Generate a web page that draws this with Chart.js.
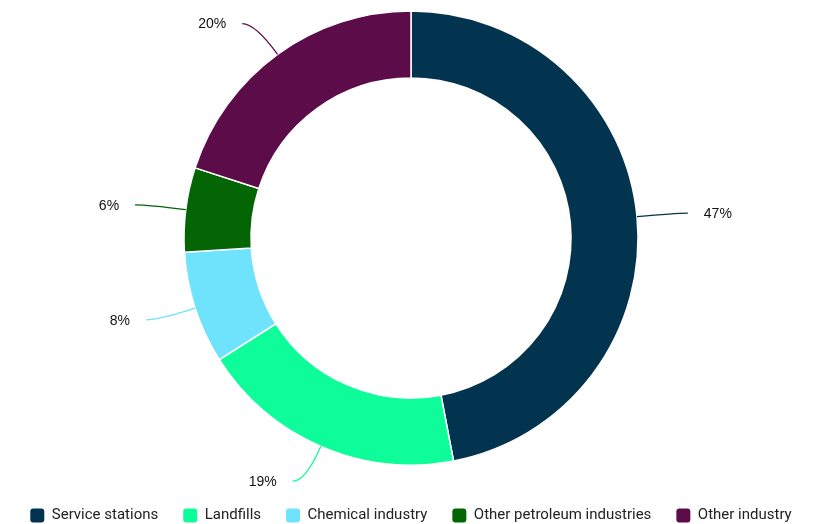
<!DOCTYPE html>
<html>
<head>
<meta charset="utf-8">
<script src="https://cdn.jsdelivr.net/npm/chart.js@4"></script>
<style>
  html, body { margin: 0; padding: 0; background: #fff; overflow: hidden; }
  #wrap { width: 822px; height: 533px; position: relative; }
</style>
</head>
<body>
<div id="wrap"><canvas id="chart"></canvas></div>
<script>
// data
const categories = ['Service stations', 'Landfills', 'Chemical industry', 'Other petroleum industries', 'Other industry'];
const shares = [47, 19, 8, 6, 20];
const sliceColors = ['#02334f', '#0efc9a', '#6fe3fc', '#036503', '#5c0c48'];

// draws the curved leader lines and the % labels outside the ring
const leaderLabels = {
  id: 'leaderLabels',
  afterDraw(chart) {
    const ctx = chart.ctx;
    const meta = chart.getDatasetMeta(0);
    meta.data.forEach((arc, i) => {
      const p = arc.getProps(['x', 'y', 'startAngle', 'endAngle', 'outerRadius'], true);
      const mid = (p.startAngle + p.endAngle) / 2;
      const dx = Math.cos(mid), dy = Math.sin(mid);
      const side = dx >= 0 ? 1 : -1;
      const sx = p.x + p.outerRadius * dx, sy = p.y + p.outerRadius * dy;
      const cx = p.x + (p.outerRadius + 38) * dx, cy = p.y + (p.outerRadius + 38) * dy;
      const ex = cx + side * 13, ey = cy;

      ctx.save();
      ctx.strokeStyle = sliceColors[i];
      ctx.lineWidth = 1.3;
      ctx.beginPath();
      ctx.moveTo(sx, sy);
      ctx.quadraticCurveTo(cx, cy, ex, ey);
      ctx.stroke();

      ctx.fillStyle = '#111';
      ctx.font = '14px "Liberation Sans", Arial, sans-serif';
      ctx.textBaseline = 'middle';
      ctx.textAlign = side > 0 ? 'left' : 'right';
      ctx.fillText(shares[i] + '%', ex + side * 16, ey + 1);
      ctx.restore();
    });
  }
};

const ctx = document.getElementById('chart').getContext('2d');
const chart = new Chart(ctx, {
  type: 'doughnut',
  data: {
    labels: categories,
    datasets: [{
      data: shares,
      backgroundColor: sliceColors,
      borderColor: '#ffffff',
      borderWidth: 1.5
    }]
  },
  options: {
    responsive: true,
    maintainAspectRatio: false,
    animation: false,
    radius: 227,
    cutout: '70.5%',
    plugins: {
      tooltip: { enabled: false },
      legend: {
        position: 'bottom',
        // empty title only adds a little space above the row
        title: { display: true, text: ' ', padding: 0, font: { size: 7 / 1.2 } },
        labels: {
          boxWidth: 14,
          boxHeight: 14,
          padding: 25,
          useBorderRadius: true,
          borderRadius: 3,
          color: '#222',
          font: { family: 'Roboto, sans-serif', size: 15 },
          generateLabels(chart) {
            const items = Chart.overrides.doughnut.plugins.legend.labels.generateLabels(chart);
            items.forEach(it => { it.lineWidth = 0; it.strokeStyle = it.fillStyle; });
            return items;
          }
        }
      }
    }
  },
  plugins: [leaderLabels]
});
</script>
</body>
</html>
